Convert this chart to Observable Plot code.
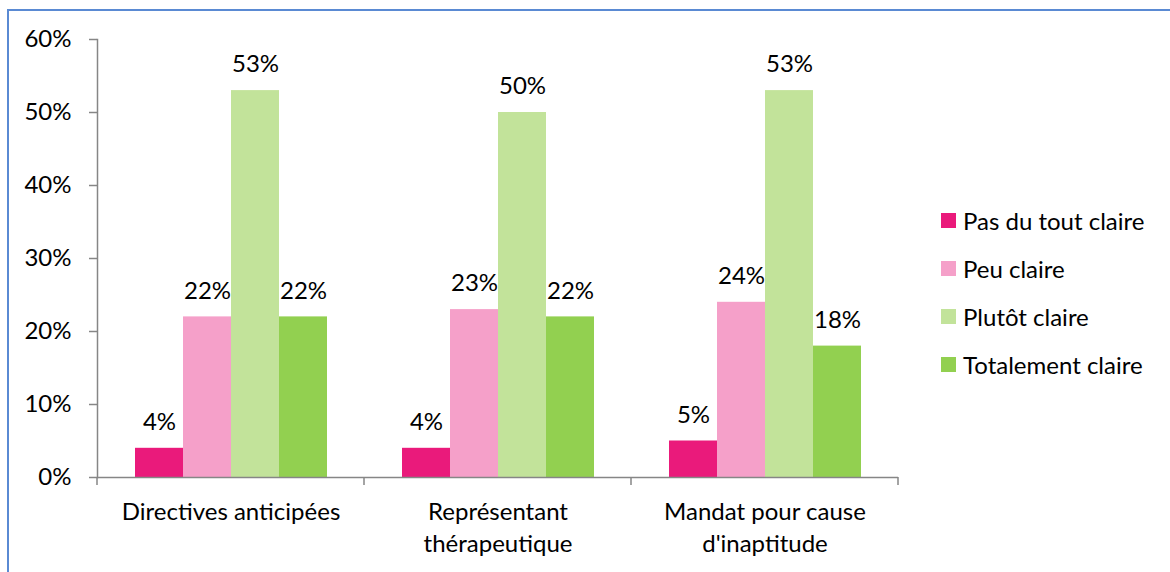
<!DOCTYPE html>
<html>
<head>
<meta charset="utf-8">
<script src="https://cdn.jsdelivr.net/npm/d3@7"></script>
<script src="https://cdn.jsdelivr.net/npm/@observablehq/plot@0.6"></script>
<style>
  html, body { margin: 0; padding: 0; background: #fff; }
  body { width: 1170px; height: 572px; overflow: hidden; position: relative; font-family: Lato, "Open Sans", sans-serif; }
  #frame { position: absolute; left: 7px; top: 9px; width: 1200px; height: 600px; border: 2px solid #5a8ad3; box-sizing: border-box; }
  #chart { position: absolute; left: 0; top: 0; }
  #legend { position: absolute; left: 941px; top: 196px; font-size: 24px; color: #000; }
  .item { display: flex; align-items: center; height: 48px; }
  .sw { width: 15px; height: 15px; margin-right: 7px; }
</style>
</head>
<body>
<div id="frame"></div>
<div id="chart"></div>
<div id="legend"></div>
<script>
// Clarity of each notion, share of respondents per answer
const categories = ["Directives anticipées", "Représentant\nthérapeutique", "Mandat pour cause\nd'inaptitude"];
const series = ["Pas du tout claire", "Peu claire", "Plutôt claire", "Totalement claire"];
const colors = ["#ea1a7b", "#f5a0c9", "#c2e39a", "#92d050"];
const pasDuTout = [0.04, 0.04, 0.05];
const peu = [0.22, 0.23, 0.24];
const plutot = [0.53, 0.50, 0.53];
const totalement = [0.22, 0.22, 0.18];
const yTicks = [0, 0.1, 0.2, 0.3, 0.4, 0.5, 0.6];

const columns = [pasDuTout, peu, plutot, totalement];
const rows = [];
categories.forEach((c, i) => {
  series.forEach((s, j) => rows.push({category: c, series: s, value: columns[j][i]}));
});

const pct = d3.format(".0%");
const axisColor = "#868686";
const fs = 24;

const chart = Plot.plot({
  width: 1170,
  height: 572,
  marginLeft: 97,
  marginRight: 272,
  marginTop: 39,
  marginBottom: 95,
  style: {fontFamily: "Lato, 'Open Sans', sans-serif", fontSize: "24px", color: "#000", background: "transparent"},
  fx: {domain: categories, padding: 0, label: null},
  x: {domain: series, paddingInner: 0, paddingOuter: 0.75, axis: null},
  y: {domain: [0, 0.6], label: null},
  color: {domain: series, range: colors},
  marks: [
    Plot.barY(rows, {fx: "category", x: "series", y: "value", fill: "series"}),
    Plot.text(rows, {fx: "category", x: "series", y: "value", text: d => pct(d.value), dy: -26, fill: "#000", fontSize: fs}),
    Plot.ruleY([0], {stroke: axisColor, strokeWidth: 1.5}),
    Plot.frame({anchor: "left", facetAnchor: "left", stroke: axisColor, strokeWidth: 1.5}),
    Plot.axisY({ticks: yTicks, tickFormat: pct, tickSize: 8, tickPadding: 18, stroke: axisColor, strokeOpacity: 1, strokeWidth: 1.5, fill: "#000", fontSize: fs, label: null}),
    Plot.axisFx({anchor: "bottom", tickSize: 0, tickPadding: 19, lineHeight: 1.35, fill: "#000", fontSize: fs, label: null})
  ]
});
document.getElementById("chart").appendChild(chart);

// Category boundary ticks under the x axis, placed from the fx band scale
const fxs = chart.scale("fx");
const [r0, r1] = fxs.range;
const step = (r1 - r0) / categories.length;
const y0 = chart.scale("y").apply(0);
d3.select(chart).append("g")
  .selectAll("line")
  .data(d3.range(categories.length + 1))
  .join("line")
  .attr("x1", i => r0 + i * step).attr("x2", i => r0 + i * step)
  .attr("y1", y0).attr("y2", y0 + 8)
  .attr("stroke", axisColor).attr("stroke-width", 1.5);

// Legend
const legend = d3.select("#legend");
series.forEach((s, i) => {
  const item = legend.append("div").attr("class", "item");
  item.append("div").attr("class", "sw").style("background", colors[i]);
  item.append("span").text(s);
});
</script>
</body>
</html>
